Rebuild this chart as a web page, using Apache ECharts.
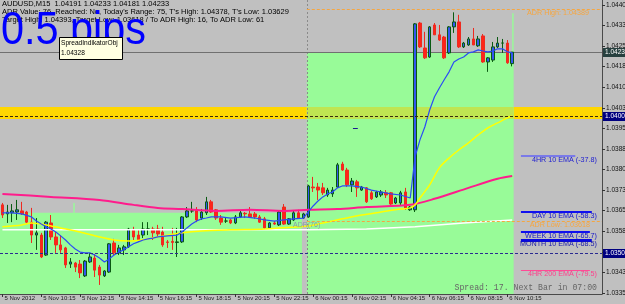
<!DOCTYPE html>
<html><head><meta charset="utf-8">
<script src="https://cdn.jsdelivr.net/npm/echarts@6/dist/echarts.min.js"></script>
<style>html,body{margin:0;padding:0;background:#c0c0c0;overflow:hidden}#c{width:625px;height:304px}</style>
</head><body><div id="c"></div>
<script>
// ---------------- DATA ----------------
const xTickLabels = ["5 Nov 2012","5 Nov 10:15","5 Nov 12:15","5 Nov 14:15","5 Nov 16:15","5 Nov 18:15","5 Nov 20:15","5 Nov 22:15","6 Nov 00:15","6 Nov 02:15","6 Nov 04:15","6 Nov 06:15","6 Nov 08:15","6 Nov 10:15"];
const barsPerTick = 8;
const slotCount = 124; // 106 bars + empty shift space
const yTicks = [1.03355,1.03430,1.03505,1.03580,1.03655,1.03730,1.03805,1.03880,1.03955,1.04030,1.04105,1.04180,1.04255,1.04330,1.04405];
const yMin = 1.03351, yMax = 1.04423;

const open = [1.03676,1.03643,1.03647,1.03650,1.03654,1.03650,1.03613,1.03566,1.03566,1.03493,
1.03610,1.03559,1.03530,1.03519,1.03460,1.03464,1.03460,1.03417,1.03468,1.03482,
1.03449,1.03417,1.03431,1.03537,1.03501,1.03512,1.03523,1.03585,1.03566,1.03566,
1.03588,1.03588,1.03588,1.03577,1.03541,1.03543,1.03539,1.03541,1.03632,1.03654,
1.03658,1.03628,1.03647,1.03687,1.03658,1.03628,1.03617,1.03621,1.03610,1.03632,
1.03645,1.03643,1.03643,1.03632,1.03625,1.03592,1.03610,1.03603,1.03668,1.03606,
1.03621,1.03647,1.03628,1.03632,1.03741,1.03741,1.03738,1.03712,1.03716,1.03741,
1.03825,1.03803,1.03749,1.03760,1.03730,1.03738,1.03720,1.03705,1.03712,1.03720,
1.03720,1.03683,1.03683,1.03723,1.03658,1.03658,1.04339,1.04248,1.04215,1.04332,
1.04296,1.04288,1.04230,1.04325,1.04343,1.04252,1.04259,1.04281,1.04256,1.04292,
1.04197,1.04204,1.04252,1.04266,1.04266,1.04191];
const high = [1.03683,1.03676,1.03679,1.03694,1.03687,1.03654,1.03665,1.03628,1.03574,1.03617,
1.03639,1.03577,1.03566,1.03523,1.03482,1.03468,1.03475,1.03475,1.03501,1.03497,
1.03457,1.03438,1.03537,1.03552,1.03530,1.03530,1.03592,1.03596,1.03585,1.03613,
1.03613,1.03596,1.03603,1.03596,1.03548,1.03592,1.03592,1.03635,1.03668,1.03687,
1.03668,1.03661,1.03705,1.03694,1.03661,1.03639,1.03628,1.03625,1.03639,1.03654,
1.03650,1.03668,1.03650,1.03639,1.03632,1.03613,1.03617,1.03654,1.03679,1.03628,
1.03654,1.03658,1.03647,1.03749,1.03778,1.03756,1.03756,1.03738,1.03741,1.03829,
1.03833,1.03811,1.03774,1.03767,1.03745,1.03741,1.03727,1.03727,1.03730,1.03730,
1.03723,1.03705,1.03727,1.03738,1.03672,1.04339,1.04343,1.04307,1.04328,1.04339,
1.04332,1.04292,1.04328,1.04378,1.04369,1.04270,1.04288,1.04321,1.04292,1.04299,
1.04215,1.04270,1.04288,1.04281,1.04277,1.04233];
const low = [1.03628,1.03610,1.03613,1.03621,1.03639,1.03606,1.03537,1.03512,1.03482,1.03490,
1.03548,1.03501,1.03501,1.03446,1.03446,1.03431,1.03409,1.03413,1.03464,1.03413,
1.03384,1.03413,1.03428,1.03493,1.03493,1.03493,1.03519,1.03548,1.03541,1.03555,
1.03566,1.03548,1.03559,1.03523,1.03519,1.03512,1.03486,1.03537,1.03628,1.03647,
1.03613,1.03621,1.03639,1.03647,1.03621,1.03603,1.03610,1.03606,1.03606,1.03628,
1.03628,1.03628,1.03625,1.03610,1.03585,1.03588,1.03603,1.03599,1.03603,1.03603,
1.03617,1.03625,1.03625,1.03629,1.03723,1.03694,1.03712,1.03705,1.03705,1.03738,
1.03800,1.03741,1.03723,1.03705,1.03727,1.03683,1.03694,1.03701,1.03705,1.03701,
1.03676,1.03679,1.03676,1.03658,1.03654,1.03650,1.04248,1.04208,1.04212,1.04296,
1.04274,1.04208,1.04226,1.04303,1.04248,1.04248,1.04256,1.04259,1.04252,1.04194,
1.04161,1.04197,1.04248,1.04230,1.04190,1.04181];
const close = [1.03639,1.03650,1.03654,1.03658,1.03643,1.03613,1.03566,1.03574,1.03486,1.03613,
1.03559,1.03530,1.03512,1.03457,1.03468,1.03449,1.03428,1.03471,1.03486,1.03438,
1.03420,1.03435,1.03534,1.03501,1.03519,1.03523,1.03588,1.03559,1.03548,1.03588,
1.03588,1.03574,1.03570,1.03530,1.03539,1.03539,1.03541,1.03632,1.03654,1.03654,
1.03621,1.03650,1.03687,1.03650,1.03628,1.03613,1.03617,1.03610,1.03632,1.03647,
1.03643,1.03632,1.03632,1.03613,1.03592,1.03610,1.03606,1.03650,1.03606,1.03625,
1.03647,1.03628,1.03643,1.03745,1.03738,1.03730,1.03720,1.03730,1.03730,1.03822,
1.03803,1.03749,1.03763,1.03738,1.03741,1.03687,1.03698,1.03723,1.03723,1.03712,
1.03679,1.03701,1.03720,1.03665,1.03668,1.04336,1.04252,1.04212,1.04325,1.04296,
1.04277,1.04212,1.04325,1.04343,1.04252,1.04266,1.04281,1.04259,1.04281,1.04197,
1.04212,1.04252,1.04266,1.04266,1.04194,1.04233];

// indicator lines: [barIndex, price]
const emaBlue = [[0,1.03647],[2,1.03647],[4,1.03643],[6,1.03632],[7,1.03617],[8,1.03606],[9,1.03596],[10,1.03588],[11,1.03577],[12,1.03563],[13,1.03548],[14,1.03530],[15,1.03515],[16,1.03504],[17,1.03501],[18,1.03501],[19,1.03493],[20,1.03482],[21,1.03468],[22,1.03479],[23,1.03493],[24,1.03504],[25,1.03512],[26,1.03523],[27,1.03534],[28,1.03541],[29,1.03548],[30,1.03552],[31,1.03555],[32,1.03559],[34,1.03563],[36,1.03566],[37,1.03577],[38,1.03592],[39,1.03606],[40,1.03617],[41,1.03625],[42,1.03628],[43,1.03632],[45,1.03632],[47,1.03628],[50,1.03632],[52,1.03628],[54,1.03621],[56,1.03617],[58,1.03621],[60,1.03625],[62,1.03628],[63,1.03650],[64,1.03672],[65,1.03690],[66,1.03705],[67,1.03716],[68,1.03723],[69,1.03738],[70,1.03745],[72,1.03745],[74,1.03741],[76,1.03730],[78,1.03723],[80,1.03716],[82,1.03712],[84,1.03701],[85,1.03851],[86,1.03913],[87,1.03960],[88,1.04022],[89,1.04070],[90,1.04102],[91,1.04132],[92,1.04161],[93,1.04197],[94,1.04208],[95,1.04215],[96,1.04230],[97,1.04234],[98,1.04241],[99,1.04237],[100,1.04234],[101,1.04237],[102,1.04245],[103,1.04245],[104,1.04234],[105,1.04230]];
const emaYellow = [[0,1.03596],[4,1.03603],[6,1.03610],[9,1.03603],[12,1.03592],[16,1.03577],[20,1.03559],[23,1.03548],[26,1.03544],[30,1.03552],[32,1.03559],[37,1.03574],[41,1.03581],[47,1.03585],[54,1.03588],[61,1.03596],[63,1.03599],[66,1.03610],[70,1.03625],[74,1.03639],[78,1.03650],[82,1.03661],[84,1.03665],[85,1.03676],[86,1.03701],[88,1.03749],[90,1.03811],[92,1.03847],[94,1.03876],[96,1.03902],[98,1.03931],[100,1.03957],[102,1.03975],[104,1.03993],[105,1.04000]];
const emaPink = [[0,1.03716],[10,1.03705],[20,1.03694],[27,1.03676],[32,1.03665],[37,1.03661],[44,1.03654],[51,1.03658],[58,1.03654],[63,1.03658],[69,1.03661],[75,1.03668],[84,1.03676],[89,1.03698],[96,1.03738],[102,1.03771],[105,1.03781]];
const whiteLine = [[0,1.03585],[63,1.03585],[75,1.03588],[85,1.03596],[95,1.03610],[105,1.03621]];

const headerLines = ["AUDUSD,M15  1.04191 1.04233 1.04181 1.04233",
 "ADR Value: 76, Reached: No, Today's Range: 75, T's High: 1.04378, T's Low: 1.03629",
 "Target High: 1.04393, Target Low: 1.03618 / To ADR High: 16, To ADR Low: 61"];
const spreadText = "0.5 pips";
const spreadObjName = "SpreadIndikatorObj", spreadObjValue = "1.04328";
const currentPrice = 1.04233;
const roundLevel = 1.04000, lowerLevel = 1.03500;
const adrHigh = 1.04389, adrLow = 1.03618;
const goldBand = [1.04033, 1.03989];
const emaNames = ["4HR 10 EMA","DAY 10 EMA","WEEK 10 EMA","MONTH 10 EMA","4HR 200 EMA"];
const emaPips = [-37.8, -58.3, -65.7, -68.5, -79.5];
const footerText = "Spread: 17. Next Bar in 07:00";
const adrLabel = "ADR(76)";

// --------------- CHART ----------------
const cats = Array.from({length: slotCount}, (_, i) => String(i));
const isTick = i => i % barsPerTick === 0 && i / barsPerTick < xTickLabels.length;

function zoneSeries(rows, color, z) {
  return {type:'custom', coordinateSystem:'cartesian2d', z, silent:true, clip:false, data: rows,
    renderItem(params, api) {
      const bw = api.size([1,0])[0];
      const a = api.coord([0, api.value(1)]), b = api.coord([0, api.value(2)]);
      const x1 = a[0] + api.value(3)*bw, x2 = a[0] + api.value(4)*bw;
      return {type:'rect', shape:{x:x1, y:a[1], width:Math.max(1,x2-x1), height:b[1]-a[1]}, style:{fill:color}};
    }};
}
function hLineSeries(rows, color, width, dash, z) {
  return {type:'custom', coordinateSystem:'cartesian2d', z, silent:true, clip:false, data: rows,
    renderItem(params, api) {
      const bw = api.size([1,0])[0];
      const a = api.coord([0, api.value(1)]);
      const y = Math.round(a[1]) + (width % 2 ? 0.5 : 0);
      return {type:'line', shape:{x1:a[0]+api.value(2)*bw, y1:y, x2:a[0]+api.value(3)*bw, y2:y},
        style:{stroke:color, lineWidth:width, lineDash:dash}};
    }};
}
function vLineSeries(rows, color, width, dash, z) {
  return {type:'custom', coordinateSystem:'cartesian2d', z, silent:true, clip:false, data: rows,
    renderItem(params, api) {
      const bw = api.size([1,0])[0];
      const a = api.coord([0, api.value(1)]), b = api.coord([0, api.value(2)]);
      const x = Math.round(a[0] + api.value(3)*bw) + 0.5;
      return {type:'line', shape:{x1:x, y1:a[1], x2:x, y2:b[1]}, style:{stroke:color, lineWidth:width, lineDash:dash}};
    }};
}
const L = -0.5, R = slotCount - 0.5;
const dayStart = 62.7, lastBar = 105;
const emaPrices = emaPips.map(p => currentPrice + p/10000);

const chart = echarts.init(document.getElementById('c'));
chart.setOption({
  animation:false,
  backgroundColor:'#c0c0c0',
  grid:{left:0, right:23, top:0, bottom:10, containLabel:false, outerBoundsMode:'none'},
  xAxis:{type:'category', data:cats, boundaryGap:true,
    axisLine:{lineStyle:{color:'#4a4a4a', width:1}},
    axisTick:{show:true, alignWithLabel:true, interval:(i)=>isTick(i), length:3, lineStyle:{color:'#333'}},
    axisLabel:{interval:(i)=>isTick(i), formatter:(v,i)=>xTickLabels[i/barsPerTick], align:'left', padding:[0,0,0,2],
      fontSize:6, fontFamily:'Liberation Sans', color:'#1a1a1a', margin:1, hideOverlap:false},
    splitLine:{show:false}},
  yAxis:{type:'value', position:'right', min:yMin, max:yMax, scale:true,
    axisLine:{show:true, lineStyle:{color:'#4a4a4a'}},
    axisTick:{show:true, length:3, customValues:yTicks, lineStyle:{color:'#333'}},
    axisLabel:{customValues:yTicks, formatter:v=>v.toFixed(5), fontSize:6.5, fontFamily:'Liberation Sans', color:'#111', margin:4, hideOverlap:false},
    splitLine:{show:false}},
  series:[
    zoneSeries([[0, goldBand[0], goldBand[1], L, R]], '#ffd700', 1),
    zoneSeries([[0, 1.03647, yMin, L, 61.7], [0, 1.03683, 1.03647, 14.6, 14.9]], '#98fb98', 2),
    zoneSeries([[0, currentPrice, yMin, dayStart, lastBar+0.3], [0, adrHigh-0.00014, currentPrice, lastBar, lastBar+0.3]], '#98fb98', 2),
    zoneSeries([[0, goldBand[0], goldBand[1], dayStart, lastBar+0.3]], '#bfe552', 3),
    vLineSeries([[0, yMax, yMin, dayStart]], '#8a8a8a', 1, [2,2], 4),
    hLineSeries([[0, currentPrice, L, R]], '#707070', 1, null, 4),
    {type:'candlestick', z:6, barWidth:3,
      data: open.map((o,i)=>[o, close[i], low[i], high[i]]),
      itemStyle:{color:'#3356f0', color0:'#ff2418', borderColor:'#0a5a12', borderColor0:'#ee2a20', borderWidth:1}},
    {type:'line', z:7, data:whiteLine, showSymbol:false, lineStyle:{color:'#ffffff', width:1.5}},
    {type:'line', z:7, data:emaPink, showSymbol:false, smooth:0.3, lineStyle:{color:'#ff1c8c', width:2}},
    {type:'line', z:8, data:emaYellow, showSymbol:false, smooth:0.3, lineStyle:{color:'#ffff00', width:1.5}},
    {type:'line', z:8, data:emaBlue, showSymbol:false, lineStyle:{color:'#2a4cf5', width:1.2}},
    hLineSeries([[0, roundLevel, L, R]], '#3a2a10', 1, [3,2], 9),
    hLineSeries([[0, lowerLevel, L, R]], '#2a2a90', 1, [3,2], 9),
    hLineSeries([[0, adrHigh, dayStart, R], [0, adrLow, dayStart, R]], '#f5a640', 1, [3,2], 9),
    hLineSeries([[0, 1.03956, 72.2, 73.2]], '#1a1a90', 1, null, 9),
    hLineSeries([[0, emaPrices[0], 106.8, 118]], '#7a7ae8', 2, null, 9),
    hLineSeries([[0, emaPrices[1], 106.8, 121.4]], '#1010ee', 2, null, 9),
    hLineSeries([[0, emaPrices[2], 106.8, 121]], '#1010ee', 2, null, 9),
    hLineSeries([[0, emaPrices[3], 106.8, 121.4]], '#0808e0', 3, null, 9),
    hLineSeries([[0, emaPrices[4], 106.8, 121]], '#ff4a96', 1, null, 9)
  ]
});

const py = p => chart.convertToPixel({yAxisIndex:0}, p);
const g = [];
const small = {fontSize:7.5, fontFamily:'Liberation Sans'};
headerLines.forEach((t, k) => g.push({type:'text', x:2, y:4 + k*8, z:20, style:Object.assign({text:t, fill:'#000', verticalAlign:'middle'}, small)}));
g.push({type:'text', x:1, y:31, z:21, scaleX:0.9, style:{text:spreadText, fill:'#0000ff', fontSize:46, fontFamily:'Liberation Sans', verticalAlign:'middle'}});
g.push({type:'rect', z:22, shape:{x:59.5, y:37.5, width:63, height:22}, style:{fill:'#ffffe1', stroke:'#000', lineWidth:1}});
g.push({type:'text', x:61, y:43.5, z:23, style:{text:spreadObjName, fill:'#000', verticalAlign:'middle', fontSize:6.6, fontFamily:'Liberation Sans'}});
g.push({type:'text', x:61, y:53, z:23, style:{text:spreadObjValue, fill:'#000', verticalAlign:'middle', fontSize:6.6, fontFamily:'Liberation Sans'}});
[[currentPrice,'#27403f'],[roundLevel,'#000080'],[lowerLevel,'#000080']].forEach(([p,c]) => {
  const y = py(p);
  g.push({type:'rect', z:22, shape:{x:603, y:Math.round(y)-4, width:24, height:9}, style:{fill:c}});
  g.push({type:'text', x:605, y:Math.round(y)+0.5, z:23, style:{text:p.toFixed(5), fill:'#fff', fontSize:6.5, fontFamily:'Liberation Sans', verticalAlign:'middle'}});
});
const emaColors = ['#2020d0','#1515d0','#1515c8','#1a1aa8','#ff3d8b'];
emaNames.forEach((n, k) => {
  g.push({type:'text', x:597, y:py(emaPrices[k]) + 4, z:20, style:{text:n + ' (' + emaPips[k].toFixed(1) + ')', fill:emaColors[k], fontSize:7.2, fontFamily:'Liberation Sans', align:'right', verticalAlign:'middle'}});
});
g.push({type:'text', x:589, y:py(adrHigh)+4, z:20, style:{text:'ADR High: ' + adrHigh.toFixed(5), fill:'#f5a640', fontSize:7.2, fontFamily:'Liberation Sans', align:'right', verticalAlign:'middle'}});
g.push({type:'text', x:590, y:py(adrLow)+4, z:20, style:{text:'ADR Low: ' + adrLow.toFixed(5), fill:'#f5a640', fontSize:7.2, fontFamily:'Liberation Sans', align:'right', verticalAlign:'middle'}});
g.push({type:'text', x:293, y:py(1.03603), z:20, style:{text:adrLabel, fill:'#8c9aa8', fontSize:7, fontFamily:'Liberation Sans', verticalAlign:'middle'}});
g.push({type:'text', x:597, y:288, z:20, style:{text:footerText, fill:'#666', fontSize:8.2, fontFamily:'Liberation Mono', align:'right', verticalAlign:'middle'}});
chart.setOption({graphic:g});
</script></body></html>
